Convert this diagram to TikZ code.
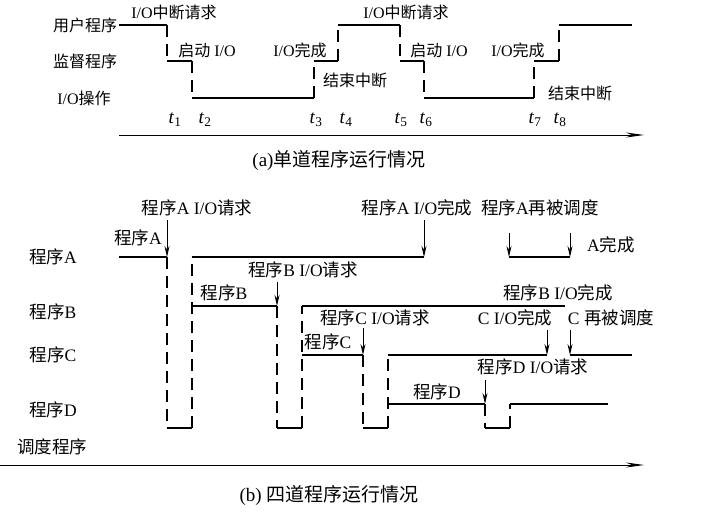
\documentclass[tikz,border=0pt]{standalone}
\usepackage{fontspec}
\setmainfont{Liberation Serif}
\newfontfamily\cjk{Noto Sans CJK SC}
\newcommand{\zh}[1]{{\cjk #1}}
\usetikzlibrary{arrows.meta}
\begin{document}
\begin{tikzpicture}[x=1pt,y=-1pt,
  wave/.style={line width=1.2pt},
  switchln/.style={line width=1.2pt,dash pattern=on 12pt off 7pt},
  la/.style={font=\fontsize{16}{16}\selectfont,inner sep=0pt},
  lb/.style={font=\fontsize{17.5}{17.5}\selectfont,inner sep=0pt},
  tick/.style={font=\fontsize{19}{19}\selectfont,inner sep=0pt},
  captext/.style={font=\fontsize{19}{19}\selectfont,inner sep=0pt},
  req/.style={line width=1pt,-{Stealth[length=11pt,width=5pt]}},
  axis/.style={line width=1pt,-{Stealth[length=18pt,width=5pt]}}]
  \useasboundingbox (0,0) rectangle (720,512);
  % (a) 单道程序：左侧三行标签
  \node[la] (user) at (85,25) {\zh{用户程序}};
  \node[la] (super) at (85,61) {\zh{监督程序}};
  \node[la] (iop) at (84,98) {I/O\zh{操作}};
  % 实线：水平段
  \foreach \xa/\xb/\y in {119/167/25, 167/192/61, 192/314/98, 314/338/61, 338/400/25,
                          400/424/61, 424/534/98, 534/559/61, 559/632/25} {
    \draw[wave] (\xa,\y) -- (\xb,\y);
  }
  % 虚线：竖直切换
  \foreach \x/\ya/\yb in {167/25/61, 192/61/98, 314/98/61, 338/61/25,
                          400/25/61, 424/61/98, 534/98/61, 559/61/25} {
    \draw[switchln] (\x,\ya) -- (\x,\yb);
  }
  % 事件说明
  \node[la] (irqa) at (174,12) {I/O\zh{中断请求}};
  \node[la] (irqb) at (406,12) {I/O\zh{中断请求}};
  \node[la] (starta) at (207,50) {\zh{启动} I/O};
  \node[la] (startb) at (439,50) {\zh{启动} I/O};
  \node[la] (donea) at (300,50) {I/O\zh{完成}};
  \node[la] (doneb) at (518,50) {I/O\zh{完成}};
  \node[la] (enda) at (355,80) {\zh{结束中断}};
  \node[la] (endb) at (580,93) {\zh{结束中断}};
  % 时刻 t1 ... t8
  \foreach \x/\i in {175/1, 205/2, 316/3, 346/4, 401/5, 426/6, 535/7, 560/8} {
    \node[tick] (t\i) at (\x,120) {\textit{t}\textsubscript{\i}};
  }
  % 时间轴
  \coordinate (ta0) at (119,135);
  \coordinate (ta1) at (644,135);
  \draw[axis] (ta0) -- (ta1);
  \node[captext] (capa) at (339,160) {(a)\zh{单道程序运行情况}};

  % (b) 四道程序：左侧行标签
  \node[lb] (pa) at (53,257) {\zh{程序}A};
  \node[lb] (pb) at (53,312) {\zh{程序}B};
  \node[lb] (pc) at (53,355) {\zh{程序}C};
  \node[lb] (pd) at (53,410) {\zh{程序}D};
  \node[lb] (sched) at (52,447) {\zh{调度程序}};
  % 实线：各程序运行段
  \foreach \xa/\xb/\y in {119/167/257, 192/424/257, 509/570/257,
                          192/277/306, 302/565/306,
                          302/363/355, 388/547/355, 570/632/355,
                          388/485/404, 510/608/404,
                          167/192/428, 277/302/428, 363/388/428, 485/510/428} {
    \draw[wave] (\xa,\y) -- (\xb,\y);
  }
  % 虚线：切到调度程序再切回
  \foreach \x/\ya/\yb in {167/257/428, 192/428/257, 277/306/428, 302/428/306,
                          363/355/428, 388/428/355, 485/404/428, 510/428/404} {
    \draw[switchln] (\x,\ya) -- (\x,\yb);
  }
  % 事件说明
  \node[lb] (areq) at (197,208) {\zh{程序}A I/O\zh{请求}};
  \node[lb] (arun) at (138,238) {\zh{程序}A};
  \node[lb] (breq) at (303,270) {\zh{程序}B I/O\zh{请求}};
  \node[lb] (brun) at (224,293) {\zh{程序}B};
  \node[lb] (adone) at (417,208) {\zh{程序}A I/O\zh{完成}};
  \node[lb] (aagain) at (540,208) {\zh{程序}A\zh{再被调度}};
  \node[lb] (aend) at (611,245) {A\zh{完成}};
  \node[lb] (bdone) at (558,293) {\zh{程序}B I/O\zh{完成}};
  \node[lb] (creq) at (375,318) {\zh{程序}C I/O\zh{请求}};
  \node[lb] (crun) at (328,342) {\zh{程序}C};
  \node[lb] (cdone) at (515,318) {C I/O\zh{完成}};
  \node[lb] (cagain) at (611,318) {C \zh{再被调度}};
  \node[lb] (dreq) at (533,367) {\zh{程序}D I/O\zh{请求}};
  \node[lb] (drun) at (437,392) {\zh{程序}D};
  % 箭头：事件落到时间线
  \foreach \x/\ya/\yb in {167/220/257, 424/220/257, 509/233/257, 570/233/257,
                          277/282/306, 363/328/355, 547/330/355, 570/330/355,
                          485/380/404} {
    \draw[req] (\x,\ya) -- (\x,\yb);
  }
  % 时间轴
  \coordinate (tb0) at (0,465);
  \coordinate (tb1) at (644,465);
  \draw[axis] (tb0) -- (tb1);
  \node[captext] (capb) at (329,495) {(b) \zh{四道程序运行情况}};
\end{tikzpicture}
\end{document}
